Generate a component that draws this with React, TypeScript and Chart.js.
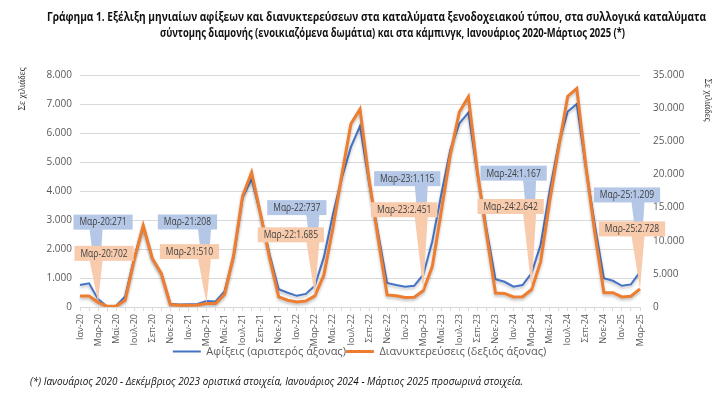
import React, { useEffect, useRef } from 'react';
import { Chart, registerables } from 'chart.js';

Chart.register(...registerables);

// ---------- DATA ----------
const categories = [
  'Ιαν-20', 'Φεβ-20', 'Μαρ-20', 'Απρ-20', 'Μαϊ-20', 'Ιουν-20', 'Ιουλ-20', 'Αυγ-20', 'Σεπ-20', 'Οκτ-20', 'Νοε-20', 'Δεκ-20',
  'Ιαν-21', 'Φεβ-21', 'Μαρ-21', 'Απρ-21', 'Μαϊ-21', 'Ιουν-21', 'Ιουλ-21', 'Αυγ-21', 'Σεπ-21', 'Οκτ-21', 'Νοε-21', 'Δεκ-21',
  'Ιαν-22', 'Φεβ-22', 'Μαρ-22', 'Απρ-22', 'Μαϊ-22', 'Ιουν-22', 'Ιουλ-22', 'Αυγ-22', 'Σεπ-22', 'Οκτ-22', 'Νοε-22', 'Δεκ-22',
  'Ιαν-23', 'Φεβ-23', 'Μαρ-23', 'Απρ-23', 'Μαϊ-23', 'Ιουν-23', 'Ιουλ-23', 'Αυγ-23', 'Σεπ-23', 'Οκτ-23', 'Νοε-23', 'Δεκ-23',
  'Ιαν-24', 'Φεβ-24', 'Μαρ-24', 'Απρ-24', 'Μαϊ-24', 'Ιουν-24', 'Ιουλ-24', 'Αυγ-24', 'Σεπ-24', 'Οκτ-24', 'Νοε-24', 'Δεκ-24',
  'Ιαν-25', 'Φεβ-25', 'Μαρ-25',
];

// Arrivals, thousands (left axis)
const arrivals = [
  760, 815, 271, 20, 45, 360, 1680, 2790, 1670, 1160, 115, 85,
  95, 105, 208, 190, 540, 1720, 3770, 4410, 3190, 1800, 615, 490,
  385, 450, 737, 1720, 3190, 4470, 5520, 6240, 4300, 2550, 830, 760,
  700, 730, 1115, 2260, 3890, 5420, 6330, 6700, 4600, 2700, 960, 870,
  700, 755, 1167, 2150, 4010, 5630, 6740, 7000, 4820, 2830, 990, 905,
  730, 780, 1209,
];

// Overnight stays, thousands (right axis)
const overnights = [
  1650, 1650, 702, 100, 150, 1010, 7100, 12280, 7360, 5070, 360, 250,
  250, 300, 510, 510, 1900, 7700, 16740, 20290, 13950, 7350, 1520, 1015,
  760, 910, 1685, 4820, 11920, 20040, 27650, 29850, 19300, 10400, 1830, 1700,
  1420, 1470, 2451, 6090, 14460, 23000, 29420, 31700, 20450, 11100, 2100, 2050,
  1520, 1550, 2642, 6850, 15980, 24090, 31800, 32980, 21350, 11210, 2180, 2150,
  1520, 1620, 2728,
];

const seriesLabels = ['Αφίξεις (αριστερός άξονας)', 'Διανυκτερεύσεις (δεξιός άξονας)'];
const calloutMonths = ['Μαρ-20', 'Μαρ-21', 'Μαρ-22', 'Μαρ-23', 'Μαρ-24', 'Μαρ-25'];

const leftTickMax = 8000;
const leftTickStep = 1000;
const rightTickMax = 35000;
const rightTickStep = 5000;

const titleLines = [
  'Γράφημα 1. Εξέλιξη μηνιαίων αφίξεων και διανυκτερεύσεων στα καταλύματα ξενοδοχειακού τύπου, στα συλλογικά καταλύματα',
  'σύντομης διαμονής (ενοικιαζόμενα δωμάτια) και στα κάμπινγκ, Ιανουάριος 2020-Μάρτιος 2025 (*)',
];
const footnote =
  '(*) Ιανουάριος 2020 - Δεκέμβριος 2023 οριστικά στοιχεία, Ιανουάριος 2024 - Μάρτιος 2025 προσωρινά στοιχεία.';
const axisTitle = 'Σε χιλιάδες';

// ---------- STYLE ----------
const BLUE = '#4472C4';
const ORANGE = '#ED7D31';
const BLUE_BOX = '#B4C7E7';
const ORANGE_BOX = '#F8CBAD';
const GRID = '#D9D9D9';
const TICK = '#595959';
const FONT = '"Open Sans", "Noto Sans", sans-serif';

// callout box centre offsets (px) relative to the point they annotate
const arrivalCalloutOffsets = [[5, -77], [-19, -79], [-18, -78], [-16, -96], [-18, -100], [-13, -77]];
const overnightCalloutOffsets = [[6, -49], [-17, -52], [-24, -61], [-19, -81], [-21, -83], [-8, -60]];

function fmt(v: number): string {
  return String(Math.round(v)).replace(/\B(?=(\d{3})+(?!\d))/g, '.');
}

function fitText(ctx: CanvasRenderingContext2D, text: string, x: number, y: number, width: number,
  font: string, align: CanvasTextAlign, color: string) {
  ctx.save();
  ctx.font = font;
  const w = ctx.measureText(text).width;
  const s = width / w;
  ctx.translate(x, y);
  ctx.scale(s, 1);
  ctx.textAlign = align;
  ctx.textBaseline = 'middle';
  ctx.fillStyle = color;
  ctx.fillText(text, 0, 0);
  ctx.restore();
}

const shadowPlugin = {
  id: 'lineShadow',
  beforeDatasetDraw(chart: any) {
    const ctx = chart.ctx;
    ctx.save();
    ctx.shadowColor = 'rgba(0,0,0,0.25)';
    ctx.shadowBlur = 3;
    ctx.shadowOffsetY = 2;
  },
  afterDatasetDraw(chart: any) {
    chart.ctx.restore();
  },
};

function drawCallout(ctx: CanvasRenderingContext2D, px: number, py: number, dx: number, dy: number,
  text: string, fill: string) {
  const font = `10px ${FONT}`;
  const sx = 0.85;
  ctx.save();
  ctx.font = font;
  const tw = ctx.measureText(text).width * sx;
  const bw = tw + 12;
  const bh = 15;
  const cx = px + dx;
  const cy = py + dy;
  const left = cx - bw / 2;
  const right = cx + bw / 2;
  const top = cy - bh / 2;
  const bottom = cy + bh / 2;
  let bc = px - 2;
  bc = Math.max(left + 8, Math.min(right - 8, bc));
  ctx.fillStyle = fill;
  ctx.beginPath();
  ctx.moveTo(bc - 6.5, bottom - 0.5);
  ctx.lineTo(bc + 6.5, bottom - 0.5);
  ctx.lineTo(px, py);
  ctx.closePath();
  ctx.fill();
  ctx.fillRect(left, top, bw, bh);
  ctx.translate(cx, cy);
  ctx.scale(sx, 1);
  ctx.fillStyle = '#404040';
  ctx.textAlign = 'center';
  ctx.textBaseline = 'middle';
  ctx.fillText(text, 0, 0.5);
  ctx.restore();
}

const calloutPlugin = {
  id: 'callouts',
  afterDatasetsDraw(chart: any) {
    const ctx = chart.ctx;
    const xs = chart.scales.x;
    const groups = [
      { data: arrivals, axis: 'y', offsets: arrivalCalloutOffsets, fill: BLUE_BOX },
      { data: overnights, axis: 'y1', offsets: overnightCalloutOffsets, fill: ORANGE_BOX },
    ];
    groups.forEach((g) => {
      calloutMonths.forEach((m, k) => {
        const i = categories.indexOf(m);
        const px = xs.getPixelForValue(i);
        const py = chart.scales[g.axis].getPixelForValue(g.data[i]);
        drawCallout(ctx, px, py, g.offsets[k][0], g.offsets[k][1], `${m}:${fmt(g.data[i])}`, g.fill);
      });
    });
  },
};

const textPlugin = {
  id: 'texts',
  afterDraw(chart: any) {
    const ctx = chart.ctx;
    fitText(ctx, titleLines[0], 376.5, 17, 659, `bold 12.5px ${FONT}`, 'center', '#111');
    fitText(ctx, titleLines[1], 392.5, 33, 465, `bold 12.5px ${FONT}`, 'center', '#111');
    fitText(ctx, footnote, 30, 382, 493, `italic 10.5px ${FONT}`, 'left', '#111');
    // axis titles
    ctx.save();
    ctx.font = '9.5px "Liberation Serif", "DejaVu Serif", serif';
    ctx.fillStyle = '#333';
    ctx.textAlign = 'center';
    ctx.textBaseline = 'middle';
    ctx.translate(22, 89);
    ctx.rotate(-Math.PI / 2);
    ctx.fillText(axisTitle, 0, 0);
    ctx.restore();
    ctx.save();
    ctx.font = '9.5px "Liberation Serif", "DejaVu Serif", serif';
    ctx.fillStyle = '#333';
    ctx.textAlign = 'center';
    ctx.textBaseline = 'middle';
    ctx.translate(707, 100);
    ctx.rotate(Math.PI / 2);
    ctx.fillText(axisTitle, 0, 0);
    ctx.restore();
  },
};

export default function App() {
  const ref = useRef<HTMLCanvasElement | null>(null);
  useEffect(() => {
    if (!ref.current) return;
    const chart = new Chart(ref.current, {
      type: 'line',
      data: {
        labels: categories,
        datasets: [
          {
            label: seriesLabels[0], data: arrivals, borderColor: BLUE, backgroundColor: BLUE,
            borderWidth: 2, pointRadius: 0, yAxisID: 'y', order: 1, tension: 0,
          },
          {
            label: seriesLabels[1], data: overnights, borderColor: ORANGE, backgroundColor: ORANGE,
            borderWidth: 3, pointRadius: 0, yAxisID: 'y1', order: 0, tension: 0,
          },
        ],
      },
      options: {
        animation: false,
        responsive: false,
        devicePixelRatio: 1,
        layout: { padding: { top: 75, left: 0, right: 0, bottom: 31 } },
        scales: {
          x: {
            type: 'category',
            offset: false,
            grid: { drawOnChartArea: false, drawTicks: true, tickLength: 4, color: GRID },
            border: { display: true, color: GRID },
            ticks: {
              autoSkip: false, maxRotation: 90, minRotation: 90, padding: 3, color: TICK,
              font: { family: FONT, size: 9 },
              callback: (_v: any, i: number) => (i % 2 === 0 ? categories[i] : ''),
            },
            afterFit: (s: any) => { s.height = 39; },
          },
          y: {
            position: 'left', min: 0, max: leftTickMax,
            ticks: { stepSize: leftTickStep, padding: 8, color: TICK, font: { family: FONT, size: 10 }, callback: (v: any) => fmt(v) },
            grid: { color: GRID, drawTicks: false },
            border: { display: false },
            afterFit: (s: any) => { s.width = 80; },
          },
          y1: {
            position: 'right', min: 0, max: rightTickMax,
            ticks: { stepSize: rightTickStep, padding: 13, color: TICK, font: { family: FONT, size: 10 }, callback: (v: any) => fmt(v) },
            grid: { drawOnChartArea: false, drawTicks: false },
            border: { display: false },
            afterFit: (s: any) => { s.width = 79; },
          },
        },
        plugins: {
          legend: {
            position: 'bottom',
            labels: {
              usePointStyle: true, pointStyle: 'line', pointStyleWidth: 28, padding: 0,
              color: TICK, font: { family: FONT, size: 11 },
              sort: (a: any, b: any) => a.datasetIndex - b.datasetIndex,
            },
          },
          tooltip: { enabled: false },
          title: { display: false },
        },
      } as any,
      plugins: [shadowPlugin, calloutPlugin, textPlugin],
    });
    return () => chart.destroy();
  }, []);
  return (
    <div style={{ position: 'fixed', left: 0, top: 0, width: 719, height: 398, background: '#fff' }}>
      <canvas ref={ref} width={719} height={398} style={{ width: 719, height: 398, display: 'block' }} />
    </div>
  );
}
